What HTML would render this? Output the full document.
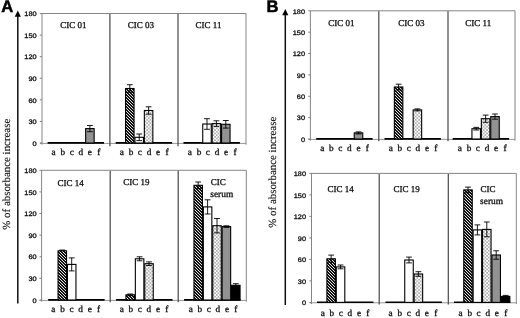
<!DOCTYPE html><html><head><meta charset="utf-8"><style>html,body{margin:0;padding:0;background:#fff;width:520px;height:318px;overflow:hidden}svg{display:block;filter:grayscale(1)}text{text-rendering:geometricPrecision}.t{font-family:"Liberation Sans",sans-serif;font-size:6.5px;fill:#111;stroke:#111;stroke-width:0.3px}.s{font-family:"Liberation Serif",serif;fill:#111;stroke:#111}</style></head><body>
<svg width="520" height="318" viewBox="0 0 520 318">
<defs><pattern id="hatch" width="3" height="3" patternUnits="userSpaceOnUse"><rect width="3" height="3" fill="#111"/><path d="M-1,-1 L4,4 M-1,2 L1,4 M2,-1 L4,1" stroke="#fff" stroke-width="0.9"/></pattern><pattern id="dots" width="3.4" height="3.4" patternUnits="userSpaceOnUse"><rect width="3.4" height="3.4" fill="#fff"/><rect x="0.2" y="0.2" width="1.3" height="1.3" fill="#777"/><rect x="1.9" y="1.9" width="1.3" height="1.3" fill="#777"/></pattern><pattern id="grey" width="2" height="2" patternUnits="userSpaceOnUse"><rect width="2" height="2" fill="#929292"/></pattern></defs>
<rect width="520" height="318" fill="#fff"/>
<text x="1.2" y="12.3" font-family="Liberation Sans" font-weight="bold" font-size="16.6" fill="#000" stroke="#000" stroke-width="0.5">A</text>
<text x="266.4" y="12.0" font-family="Liberation Sans" font-weight="bold" font-size="16.6" fill="#000" stroke="#000" stroke-width="0.5">B</text>
<line x1="17.8" y1="15.4" x2="17.8" y2="303.5" stroke="#111" stroke-width="1.5"/>
<path d="M17.8,10.4 L14.700000000000001,16.8 L20.900000000000002,16.8 Z" fill="#000"/>
<line x1="285.3" y1="13.9" x2="285.3" y2="305.0" stroke="#111" stroke-width="1.5"/>
<path d="M285.3,8.9 L282.2,15.3 L288.40000000000003,15.3 Z" fill="#000"/>
<text x="0" y="0" font-family="Liberation Serif" font-size="10.9" fill="#111" stroke="#111" stroke-width="0.15" text-anchor="middle" transform="translate(10.2,174.2) rotate(-90)">% of absorbance increase</text>
<text x="0" y="0" font-family="Liberation Serif" font-size="10.9" fill="#111" stroke="#111" stroke-width="0.15" text-anchor="middle" transform="translate(276.0,172.2) rotate(-90)">% of absorbance increase</text>
<path d="M42.0,144.7 V13.5 H246.0 V144.7" fill="none" stroke="#858585" stroke-width="1"/>
<path d="M40.0,143.4 H246.0" fill="none" stroke="#8a8a8a" stroke-width="0.9"/>
<line x1="109.9" y1="14.0" x2="109.9" y2="146.2" stroke="#484848" stroke-width="1.2"/>
<line x1="178.0" y1="14.0" x2="178.0" y2="146.2" stroke="#484848" stroke-width="1.2"/>
<line x1="39.8" y1="143.00" x2="42.0" y2="143.00" stroke="#777" stroke-width="0.9"/>
<text class="t" x="0" y="0" text-anchor="end" transform="translate(36.6,145.70) scale(1.13,1)">0</text>
<line x1="39.8" y1="121.42" x2="42.0" y2="121.42" stroke="#777" stroke-width="0.9"/>
<text class="t" x="0" y="0" text-anchor="end" transform="translate(36.6,124.12) scale(1.13,1)">30</text>
<line x1="39.8" y1="99.83" x2="42.0" y2="99.83" stroke="#777" stroke-width="0.9"/>
<text class="t" x="0" y="0" text-anchor="end" transform="translate(36.6,102.53) scale(1.13,1)">60</text>
<line x1="39.8" y1="78.25" x2="42.0" y2="78.25" stroke="#777" stroke-width="0.9"/>
<text class="t" x="0" y="0" text-anchor="end" transform="translate(36.6,80.95) scale(1.13,1)">90</text>
<line x1="39.8" y1="56.67" x2="42.0" y2="56.67" stroke="#777" stroke-width="0.9"/>
<text class="t" x="0" y="0" text-anchor="end" transform="translate(36.6,59.37) scale(1.13,1)">120</text>
<line x1="39.8" y1="35.08" x2="42.0" y2="35.08" stroke="#777" stroke-width="0.9"/>
<text class="t" x="0" y="0" text-anchor="end" transform="translate(36.6,37.78) scale(1.13,1)">150</text>
<line x1="39.8" y1="13.50" x2="42.0" y2="13.50" stroke="#777" stroke-width="0.9"/>
<text class="t" x="0" y="0" text-anchor="end" transform="translate(36.6,16.20) scale(1.13,1)">180</text>
<line x1="47.60" y1="142.9" x2="104.00" y2="142.9" stroke="#000" stroke-width="1.6"/>
<rect x="85.65" y="128.60" width="8.50" height="14.40" fill="url(#grey)" stroke="#000" stroke-width="1.1"/>
<path d="M89.90,125.50 V131.70 M87.00,125.50 H92.80 M87.00,131.70 H92.80" stroke="#000" stroke-width="0.9" fill="none"/>
<text class="s" x="53.60" y="154.80" font-size="9.2" stroke-width="0.32" text-anchor="middle">a</text>
<text class="s" x="62.80" y="154.80" font-size="9.2" stroke-width="0.32" text-anchor="middle">b</text>
<text class="s" x="71.70" y="154.80" font-size="9.2" stroke-width="0.32" text-anchor="middle">c</text>
<text class="s" x="80.80" y="154.80" font-size="9.2" stroke-width="0.32" text-anchor="middle">d</text>
<text class="s" x="89.90" y="154.80" font-size="9.2" stroke-width="0.32" text-anchor="middle">e</text>
<text class="s" x="98.80" y="154.80" font-size="9.2" stroke-width="0.32" text-anchor="middle">f</text>
<text class="s" x="60.30" y="27.60" font-size="9" stroke-width="0.3">CIC 01</text>
<line x1="115.70" y1="142.9" x2="172.10" y2="142.9" stroke="#000" stroke-width="1.6"/>
<rect x="125.55" y="88.50" width="8.50" height="54.50" fill="url(#hatch)" stroke="#000" stroke-width="1.1"/>
<path d="M129.80,84.70 V92.30 M126.90,84.70 H132.70 M126.90,92.30 H132.70" stroke="#000" stroke-width="0.9" fill="none"/>
<rect x="134.95" y="137.30" width="8.50" height="5.70" fill="#fff" stroke="#000" stroke-width="1.1"/>
<path d="M139.20,134.00 V140.60 M136.30,134.00 H142.10 M136.30,140.60 H142.10" stroke="#000" stroke-width="0.9" fill="none"/>
<rect x="144.35" y="110.50" width="8.50" height="32.50" fill="url(#dots)" stroke="#000" stroke-width="1.1"/>
<path d="M148.60,106.80 V114.20 M145.70,106.80 H151.50 M145.70,114.20 H151.50" stroke="#000" stroke-width="0.9" fill="none"/>
<text class="s" x="121.80" y="154.80" font-size="9.2" stroke-width="0.32" text-anchor="middle">a</text>
<text class="s" x="131.00" y="154.80" font-size="9.2" stroke-width="0.32" text-anchor="middle">b</text>
<text class="s" x="139.90" y="154.80" font-size="9.2" stroke-width="0.32" text-anchor="middle">c</text>
<text class="s" x="149.00" y="154.80" font-size="9.2" stroke-width="0.32" text-anchor="middle">d</text>
<text class="s" x="158.10" y="154.80" font-size="9.2" stroke-width="0.32" text-anchor="middle">e</text>
<text class="s" x="167.00" y="154.80" font-size="9.2" stroke-width="0.32" text-anchor="middle">f</text>
<text class="s" x="127.80" y="27.60" font-size="9" stroke-width="0.3">CIC 03</text>
<line x1="183.50" y1="142.9" x2="239.90" y2="142.9" stroke="#000" stroke-width="1.6"/>
<rect x="202.75" y="124.00" width="8.50" height="19.00" fill="#fff" stroke="#000" stroke-width="1.1"/>
<path d="M207.00,118.70 V129.30 M204.10,118.70 H209.90 M204.10,129.30 H209.90" stroke="#000" stroke-width="0.9" fill="none"/>
<rect x="212.15" y="123.60" width="8.50" height="19.40" fill="url(#dots)" stroke="#000" stroke-width="1.1"/>
<path d="M216.40,120.80 V126.40 M213.50,120.80 H219.30 M213.50,126.40 H219.30" stroke="#000" stroke-width="0.9" fill="none"/>
<rect x="221.55" y="124.30" width="8.50" height="18.70" fill="url(#grey)" stroke="#000" stroke-width="1.1"/>
<path d="M225.80,120.50 V128.10 M222.90,120.50 H228.70 M222.90,128.10 H228.70" stroke="#000" stroke-width="0.9" fill="none"/>
<text class="s" x="189.80" y="154.80" font-size="9.2" stroke-width="0.32" text-anchor="middle">a</text>
<text class="s" x="199.00" y="154.80" font-size="9.2" stroke-width="0.32" text-anchor="middle">b</text>
<text class="s" x="207.90" y="154.80" font-size="9.2" stroke-width="0.32" text-anchor="middle">c</text>
<text class="s" x="217.00" y="154.80" font-size="9.2" stroke-width="0.32" text-anchor="middle">d</text>
<text class="s" x="226.10" y="154.80" font-size="9.2" stroke-width="0.32" text-anchor="middle">e</text>
<text class="s" x="235.00" y="154.80" font-size="9.2" stroke-width="0.32" text-anchor="middle">f</text>
<text class="s" x="195.60" y="27.60" font-size="9" stroke-width="0.3">CIC 11</text>
<path d="M41.6,301.7 V170.3 H246.3 V301.7" fill="none" stroke="#858585" stroke-width="1"/>
<path d="M39.6,300.4 H246.3" fill="none" stroke="#8a8a8a" stroke-width="0.9"/>
<line x1="110.2" y1="170.8" x2="110.2" y2="302.2" stroke="#484848" stroke-width="1.2"/>
<line x1="178.2" y1="170.8" x2="178.2" y2="302.2" stroke="#484848" stroke-width="1.2"/>
<line x1="39.4" y1="300.00" x2="41.6" y2="300.00" stroke="#777" stroke-width="0.9"/>
<text class="t" x="0" y="0" text-anchor="end" transform="translate(36.6,302.70) scale(1.13,1)">0</text>
<line x1="39.4" y1="278.38" x2="41.6" y2="278.38" stroke="#777" stroke-width="0.9"/>
<text class="t" x="0" y="0" text-anchor="end" transform="translate(36.6,281.08) scale(1.13,1)">30</text>
<line x1="39.4" y1="256.77" x2="41.6" y2="256.77" stroke="#777" stroke-width="0.9"/>
<text class="t" x="0" y="0" text-anchor="end" transform="translate(36.6,259.47) scale(1.13,1)">60</text>
<line x1="39.4" y1="235.15" x2="41.6" y2="235.15" stroke="#777" stroke-width="0.9"/>
<text class="t" x="0" y="0" text-anchor="end" transform="translate(36.6,237.85) scale(1.13,1)">90</text>
<line x1="39.4" y1="213.53" x2="41.6" y2="213.53" stroke="#777" stroke-width="0.9"/>
<text class="t" x="0" y="0" text-anchor="end" transform="translate(36.6,216.23) scale(1.13,1)">120</text>
<line x1="39.4" y1="191.92" x2="41.6" y2="191.92" stroke="#777" stroke-width="0.9"/>
<text class="t" x="0" y="0" text-anchor="end" transform="translate(36.6,194.62) scale(1.13,1)">150</text>
<line x1="39.4" y1="170.30" x2="41.6" y2="170.30" stroke="#777" stroke-width="0.9"/>
<text class="t" x="0" y="0" text-anchor="end" transform="translate(36.6,173.00) scale(1.13,1)">180</text>
<line x1="48.20" y1="299.9" x2="104.60" y2="299.9" stroke="#000" stroke-width="1.6"/>
<rect x="58.05" y="250.80" width="8.50" height="49.20" fill="url(#hatch)" stroke="#000" stroke-width="1.1"/>
<path d="M59.40,250.20 H65.20" stroke="#000" stroke-width="1.2" fill="none"/>
<rect x="67.45" y="264.40" width="8.50" height="35.60" fill="#fff" stroke="#000" stroke-width="1.1"/>
<path d="M71.70,257.90 V270.90 M68.80,257.90 H74.60 M68.80,270.90 H74.60" stroke="#000" stroke-width="0.9" fill="none"/>
<text class="s" x="53.40" y="311.80" font-size="9.2" stroke-width="0.32" text-anchor="middle">a</text>
<text class="s" x="62.60" y="311.80" font-size="9.2" stroke-width="0.32" text-anchor="middle">b</text>
<text class="s" x="71.50" y="311.80" font-size="9.2" stroke-width="0.32" text-anchor="middle">c</text>
<text class="s" x="80.60" y="311.80" font-size="9.2" stroke-width="0.32" text-anchor="middle">d</text>
<text class="s" x="89.70" y="311.80" font-size="9.2" stroke-width="0.32" text-anchor="middle">e</text>
<text class="s" x="98.60" y="311.80" font-size="9.2" stroke-width="0.32" text-anchor="middle">f</text>
<text class="s" x="57.60" y="185.60" font-size="9" stroke-width="0.3">CIC 14</text>
<line x1="116.10" y1="299.9" x2="172.50" y2="299.9" stroke="#000" stroke-width="1.6"/>
<rect x="125.95" y="294.80" width="8.50" height="5.20" fill="url(#hatch)" stroke="#000" stroke-width="1.1"/>
<path d="M130.20,294.00 V295.60 M127.30,294.00 H133.10 M127.30,295.60 H133.10" stroke="#000" stroke-width="0.9" fill="none"/>
<rect x="135.35" y="258.80" width="8.50" height="41.20" fill="#fff" stroke="#000" stroke-width="1.1"/>
<path d="M139.60,256.80 V260.80 M136.70,256.80 H142.50 M136.70,260.80 H142.50" stroke="#000" stroke-width="0.9" fill="none"/>
<rect x="144.75" y="263.70" width="8.50" height="36.30" fill="url(#dots)" stroke="#000" stroke-width="1.1"/>
<path d="M149.00,261.90 V265.50 M146.10,261.90 H151.90 M146.10,265.50 H151.90" stroke="#000" stroke-width="0.9" fill="none"/>
<text class="s" x="121.70" y="311.80" font-size="9.2" stroke-width="0.32" text-anchor="middle">a</text>
<text class="s" x="130.90" y="311.80" font-size="9.2" stroke-width="0.32" text-anchor="middle">b</text>
<text class="s" x="139.80" y="311.80" font-size="9.2" stroke-width="0.32" text-anchor="middle">c</text>
<text class="s" x="148.90" y="311.80" font-size="9.2" stroke-width="0.32" text-anchor="middle">d</text>
<text class="s" x="158.00" y="311.80" font-size="9.2" stroke-width="0.32" text-anchor="middle">e</text>
<text class="s" x="166.90" y="311.80" font-size="9.2" stroke-width="0.32" text-anchor="middle">f</text>
<text class="s" x="123.30" y="185.30" font-size="9" stroke-width="0.3">CIC 19</text>
<line x1="184.10" y1="299.9" x2="240.50" y2="299.9" stroke="#000" stroke-width="1.6"/>
<rect x="193.95" y="185.30" width="8.50" height="114.70" fill="url(#hatch)" stroke="#000" stroke-width="1.1"/>
<path d="M198.20,182.00 V188.60 M195.30,182.00 H201.10 M195.30,188.60 H201.10" stroke="#000" stroke-width="0.9" fill="none"/>
<rect x="203.35" y="206.90" width="8.50" height="93.10" fill="#fff" stroke="#000" stroke-width="1.1"/>
<path d="M207.60,199.80 V214.00 M204.70,199.80 H210.50 M204.70,214.00 H210.50" stroke="#000" stroke-width="0.9" fill="none"/>
<rect x="212.75" y="225.70" width="8.50" height="74.30" fill="url(#dots)" stroke="#000" stroke-width="1.1"/>
<path d="M217.00,218.50 V232.90 M214.10,218.50 H219.90 M214.10,232.90 H219.90" stroke="#000" stroke-width="0.9" fill="none"/>
<rect x="222.15" y="226.60" width="8.50" height="73.40" fill="url(#grey)" stroke="#000" stroke-width="1.1"/>
<path d="M226.40,225.80 V227.40 M223.50,225.80 H229.30 M223.50,227.40 H229.30" stroke="#000" stroke-width="0.9" fill="none"/>
<rect x="231.55" y="285.30" width="8.50" height="14.70" fill="#000" stroke="#000" stroke-width="1.1"/>
<path d="M235.80,283.70 V286.90 M232.90,283.70 H238.70 M232.90,286.90 H238.70" stroke="#000" stroke-width="0.9" fill="none"/>
<text class="s" x="190.70" y="311.80" font-size="9.2" stroke-width="0.32" text-anchor="middle">a</text>
<text class="s" x="199.90" y="311.80" font-size="9.2" stroke-width="0.32" text-anchor="middle">b</text>
<text class="s" x="208.80" y="311.80" font-size="9.2" stroke-width="0.32" text-anchor="middle">c</text>
<text class="s" x="217.90" y="311.80" font-size="9.2" stroke-width="0.32" text-anchor="middle">d</text>
<text class="s" x="227.00" y="311.80" font-size="9.2" stroke-width="0.32" text-anchor="middle">e</text>
<text class="s" x="235.90" y="311.80" font-size="9.2" stroke-width="0.32" text-anchor="middle">f</text>
<text class="s" x="210.80" y="185.10" font-size="9" stroke-width="0.3">CIC</text>
<text class="s" x="210.30" y="196.80" font-size="9.4" stroke-width="0.3">serum</text>
<path d="M310.4,140.7 V10.8 H515.0 V140.7" fill="none" stroke="#858585" stroke-width="1"/>
<path d="M308.4,139.4 H515.0" fill="none" stroke="#8a8a8a" stroke-width="0.9"/>
<line x1="378.8" y1="11.3" x2="378.8" y2="141.2" stroke="#484848" stroke-width="1.2"/>
<line x1="448.0" y1="11.3" x2="448.0" y2="141.2" stroke="#484848" stroke-width="1.2"/>
<line x1="308.2" y1="139.00" x2="310.4" y2="139.00" stroke="#777" stroke-width="0.9"/>
<text class="t" x="0" y="0" text-anchor="end" transform="translate(305.0,141.70) scale(1.13,1)">0</text>
<line x1="308.2" y1="117.63" x2="310.4" y2="117.63" stroke="#777" stroke-width="0.9"/>
<text class="t" x="0" y="0" text-anchor="end" transform="translate(305.0,120.33) scale(1.13,1)">30</text>
<line x1="308.2" y1="96.27" x2="310.4" y2="96.27" stroke="#777" stroke-width="0.9"/>
<text class="t" x="0" y="0" text-anchor="end" transform="translate(305.0,98.97) scale(1.13,1)">60</text>
<line x1="308.2" y1="74.90" x2="310.4" y2="74.90" stroke="#777" stroke-width="0.9"/>
<text class="t" x="0" y="0" text-anchor="end" transform="translate(305.0,77.60) scale(1.13,1)">90</text>
<line x1="308.2" y1="53.53" x2="310.4" y2="53.53" stroke="#777" stroke-width="0.9"/>
<text class="t" x="0" y="0" text-anchor="end" transform="translate(305.0,56.23) scale(1.13,1)">120</text>
<line x1="308.2" y1="32.17" x2="310.4" y2="32.17" stroke="#777" stroke-width="0.9"/>
<text class="t" x="0" y="0" text-anchor="end" transform="translate(305.0,34.87) scale(1.13,1)">150</text>
<line x1="308.2" y1="10.80" x2="310.4" y2="10.80" stroke="#777" stroke-width="0.9"/>
<text class="t" x="0" y="0" text-anchor="end" transform="translate(305.0,13.50) scale(1.13,1)">180</text>
<line x1="316.20" y1="138.9" x2="372.60" y2="138.9" stroke="#000" stroke-width="1.6"/>
<rect x="354.25" y="132.90" width="8.50" height="6.10" fill="url(#grey)" stroke="#000" stroke-width="1.1"/>
<path d="M358.50,131.90 V133.90 M355.60,131.90 H361.40 M355.60,133.90 H361.40" stroke="#000" stroke-width="0.9" fill="none"/>
<text class="s" x="322.20" y="150.80" font-size="9.2" stroke-width="0.32" text-anchor="middle">a</text>
<text class="s" x="331.40" y="150.80" font-size="9.2" stroke-width="0.32" text-anchor="middle">b</text>
<text class="s" x="340.30" y="150.80" font-size="9.2" stroke-width="0.32" text-anchor="middle">c</text>
<text class="s" x="349.40" y="150.80" font-size="9.2" stroke-width="0.32" text-anchor="middle">d</text>
<text class="s" x="358.50" y="150.80" font-size="9.2" stroke-width="0.32" text-anchor="middle">e</text>
<text class="s" x="367.40" y="150.80" font-size="9.2" stroke-width="0.32" text-anchor="middle">f</text>
<text class="s" x="328.30" y="26.30" font-size="9" stroke-width="0.3">CIC 01</text>
<line x1="384.50" y1="138.9" x2="440.90" y2="138.9" stroke="#000" stroke-width="1.6"/>
<rect x="394.35" y="87.00" width="8.50" height="52.00" fill="url(#hatch)" stroke="#000" stroke-width="1.1"/>
<path d="M398.60,84.20 V89.80 M395.70,84.20 H401.50 M395.70,89.80 H401.50" stroke="#000" stroke-width="0.9" fill="none"/>
<rect x="413.15" y="109.90" width="8.50" height="29.10" fill="url(#dots)" stroke="#000" stroke-width="1.1"/>
<path d="M417.40,108.90 V110.90 M414.50,108.90 H420.30 M414.50,110.90 H420.30" stroke="#000" stroke-width="0.9" fill="none"/>
<text class="s" x="390.70" y="150.80" font-size="9.2" stroke-width="0.32" text-anchor="middle">a</text>
<text class="s" x="399.90" y="150.80" font-size="9.2" stroke-width="0.32" text-anchor="middle">b</text>
<text class="s" x="408.80" y="150.80" font-size="9.2" stroke-width="0.32" text-anchor="middle">c</text>
<text class="s" x="417.90" y="150.80" font-size="9.2" stroke-width="0.32" text-anchor="middle">d</text>
<text class="s" x="427.00" y="150.80" font-size="9.2" stroke-width="0.32" text-anchor="middle">e</text>
<text class="s" x="435.90" y="150.80" font-size="9.2" stroke-width="0.32" text-anchor="middle">f</text>
<text class="s" x="398.30" y="26.30" font-size="9" stroke-width="0.3">CIC 03</text>
<line x1="452.70" y1="138.9" x2="509.10" y2="138.9" stroke="#000" stroke-width="1.6"/>
<rect x="471.95" y="128.70" width="8.50" height="10.30" fill="#fff" stroke="#000" stroke-width="1.1"/>
<path d="M476.20,127.40 V130.00 M473.30,127.40 H479.10 M473.30,130.00 H479.10" stroke="#000" stroke-width="0.9" fill="none"/>
<rect x="481.35" y="118.70" width="8.50" height="20.30" fill="url(#dots)" stroke="#000" stroke-width="1.1"/>
<path d="M485.60,115.10 V122.30 M482.70,115.10 H488.50 M482.70,122.30 H488.50" stroke="#000" stroke-width="0.9" fill="none"/>
<rect x="490.75" y="116.60" width="8.50" height="22.40" fill="url(#grey)" stroke="#000" stroke-width="1.1"/>
<path d="M495.00,114.00 V119.20 M492.10,114.00 H497.90 M492.10,119.20 H497.90" stroke="#000" stroke-width="0.9" fill="none"/>
<text class="s" x="459.80" y="150.80" font-size="9.2" stroke-width="0.32" text-anchor="middle">a</text>
<text class="s" x="469.00" y="150.80" font-size="9.2" stroke-width="0.32" text-anchor="middle">b</text>
<text class="s" x="477.90" y="150.80" font-size="9.2" stroke-width="0.32" text-anchor="middle">c</text>
<text class="s" x="487.00" y="150.80" font-size="9.2" stroke-width="0.32" text-anchor="middle">d</text>
<text class="s" x="496.10" y="150.80" font-size="9.2" stroke-width="0.32" text-anchor="middle">e</text>
<text class="s" x="505.00" y="150.80" font-size="9.2" stroke-width="0.32" text-anchor="middle">f</text>
<text class="s" x="465.30" y="25.80" font-size="9" stroke-width="0.3">CIC 11</text>
<path d="M311.5,304.09999999999997 V173.4 H516.3 V304.09999999999997" fill="none" stroke="#858585" stroke-width="1"/>
<path d="M309.5,302.79999999999995 H516.3" fill="none" stroke="#8a8a8a" stroke-width="0.9"/>
<line x1="379.2" y1="173.9" x2="379.2" y2="304.59999999999997" stroke="#484848" stroke-width="1.2"/>
<line x1="448.3" y1="173.9" x2="448.3" y2="304.59999999999997" stroke="#484848" stroke-width="1.2"/>
<line x1="309.3" y1="302.40" x2="311.5" y2="302.40" stroke="#777" stroke-width="0.9"/>
<text class="t" x="0" y="0" text-anchor="end" transform="translate(306.0,305.10) scale(1.13,1)">0</text>
<line x1="309.3" y1="280.90" x2="311.5" y2="280.90" stroke="#777" stroke-width="0.9"/>
<text class="t" x="0" y="0" text-anchor="end" transform="translate(306.0,283.60) scale(1.13,1)">30</text>
<line x1="309.3" y1="259.40" x2="311.5" y2="259.40" stroke="#777" stroke-width="0.9"/>
<text class="t" x="0" y="0" text-anchor="end" transform="translate(306.0,262.10) scale(1.13,1)">60</text>
<line x1="309.3" y1="237.90" x2="311.5" y2="237.90" stroke="#777" stroke-width="0.9"/>
<text class="t" x="0" y="0" text-anchor="end" transform="translate(306.0,240.60) scale(1.13,1)">90</text>
<line x1="309.3" y1="216.40" x2="311.5" y2="216.40" stroke="#777" stroke-width="0.9"/>
<text class="t" x="0" y="0" text-anchor="end" transform="translate(306.0,219.10) scale(1.13,1)">120</text>
<line x1="309.3" y1="194.90" x2="311.5" y2="194.90" stroke="#777" stroke-width="0.9"/>
<text class="t" x="0" y="0" text-anchor="end" transform="translate(306.0,197.60) scale(1.13,1)">150</text>
<line x1="309.3" y1="173.40" x2="311.5" y2="173.40" stroke="#777" stroke-width="0.9"/>
<text class="t" x="0" y="0" text-anchor="end" transform="translate(306.0,176.10) scale(1.13,1)">180</text>
<line x1="317.05" y1="302.29999999999995" x2="373.45" y2="302.29999999999995" stroke="#000" stroke-width="1.6"/>
<rect x="326.90" y="258.80" width="8.50" height="43.60" fill="url(#hatch)" stroke="#000" stroke-width="1.1"/>
<path d="M331.15,255.10 V262.50 M328.25,255.10 H334.05 M328.25,262.50 H334.05" stroke="#000" stroke-width="0.9" fill="none"/>
<rect x="336.30" y="266.90" width="8.50" height="35.50" fill="#fff" stroke="#000" stroke-width="1.1"/>
<path d="M340.55,265.00 V268.80 M337.65,265.00 H343.45 M337.65,268.80 H343.45" stroke="#000" stroke-width="0.9" fill="none"/>
<text class="s" x="322.70" y="315.60" font-size="9.2" stroke-width="0.32" text-anchor="middle">a</text>
<text class="s" x="331.90" y="315.60" font-size="9.2" stroke-width="0.32" text-anchor="middle">b</text>
<text class="s" x="340.80" y="315.60" font-size="9.2" stroke-width="0.32" text-anchor="middle">c</text>
<text class="s" x="349.90" y="315.60" font-size="9.2" stroke-width="0.32" text-anchor="middle">d</text>
<text class="s" x="359.00" y="315.60" font-size="9.2" stroke-width="0.32" text-anchor="middle">e</text>
<text class="s" x="367.90" y="315.60" font-size="9.2" stroke-width="0.32" text-anchor="middle">f</text>
<text class="s" x="327.60" y="192.30" font-size="9" stroke-width="0.3">CIC 14</text>
<line x1="385.50" y1="302.29999999999995" x2="441.90" y2="302.29999999999995" stroke="#000" stroke-width="1.6"/>
<rect x="404.75" y="260.00" width="8.50" height="42.40" fill="#fff" stroke="#000" stroke-width="1.1"/>
<path d="M409.00,257.10 V262.90 M406.10,257.10 H411.90 M406.10,262.90 H411.90" stroke="#000" stroke-width="0.9" fill="none"/>
<rect x="414.15" y="274.00" width="8.50" height="28.40" fill="url(#dots)" stroke="#000" stroke-width="1.1"/>
<path d="M418.40,271.70 V276.30 M415.50,271.70 H421.30 M415.50,276.30 H421.30" stroke="#000" stroke-width="0.9" fill="none"/>
<text class="s" x="390.60" y="315.60" font-size="9.2" stroke-width="0.32" text-anchor="middle">a</text>
<text class="s" x="399.80" y="315.60" font-size="9.2" stroke-width="0.32" text-anchor="middle">b</text>
<text class="s" x="408.70" y="315.60" font-size="9.2" stroke-width="0.32" text-anchor="middle">c</text>
<text class="s" x="417.80" y="315.60" font-size="9.2" stroke-width="0.32" text-anchor="middle">d</text>
<text class="s" x="426.90" y="315.60" font-size="9.2" stroke-width="0.32" text-anchor="middle">e</text>
<text class="s" x="435.80" y="315.60" font-size="9.2" stroke-width="0.32" text-anchor="middle">f</text>
<text class="s" x="393.40" y="192.30" font-size="9" stroke-width="0.3">CIC 19</text>
<line x1="453.90" y1="302.29999999999995" x2="510.30" y2="302.29999999999995" stroke="#000" stroke-width="1.6"/>
<rect x="463.75" y="189.90" width="8.50" height="112.50" fill="url(#hatch)" stroke="#000" stroke-width="1.1"/>
<path d="M468.00,187.10 V192.70 M465.10,187.10 H470.90 M465.10,192.70 H470.90" stroke="#000" stroke-width="0.9" fill="none"/>
<rect x="473.15" y="229.90" width="8.50" height="72.50" fill="#fff" stroke="#000" stroke-width="1.1"/>
<path d="M477.40,224.90 V234.90 M474.50,224.90 H480.30 M474.50,234.90 H480.30" stroke="#000" stroke-width="0.9" fill="none"/>
<rect x="482.55" y="229.40" width="8.50" height="73.00" fill="url(#dots)" stroke="#000" stroke-width="1.1"/>
<path d="M486.80,222.00 V236.80 M483.90,222.00 H489.70 M483.90,236.80 H489.70" stroke="#000" stroke-width="0.9" fill="none"/>
<rect x="491.95" y="255.00" width="8.50" height="47.40" fill="url(#grey)" stroke="#000" stroke-width="1.1"/>
<path d="M496.20,250.80 V259.20 M493.30,250.80 H499.10 M493.30,259.20 H499.10" stroke="#000" stroke-width="0.9" fill="none"/>
<rect x="501.35" y="296.40" width="8.50" height="6.00" fill="#000" stroke="#000" stroke-width="1.1"/>
<path d="M505.60,295.40 V297.40 M502.70,295.40 H508.50 M502.70,297.40 H508.50" stroke="#000" stroke-width="0.9" fill="none"/>
<text class="s" x="460.50" y="315.60" font-size="9.2" stroke-width="0.32" text-anchor="middle">a</text>
<text class="s" x="469.70" y="315.60" font-size="9.2" stroke-width="0.32" text-anchor="middle">b</text>
<text class="s" x="478.60" y="315.60" font-size="9.2" stroke-width="0.32" text-anchor="middle">c</text>
<text class="s" x="487.70" y="315.60" font-size="9.2" stroke-width="0.32" text-anchor="middle">d</text>
<text class="s" x="496.80" y="315.60" font-size="9.2" stroke-width="0.32" text-anchor="middle">e</text>
<text class="s" x="505.70" y="315.60" font-size="9.2" stroke-width="0.32" text-anchor="middle">f</text>
<text class="s" x="480.40" y="191.80" font-size="9" stroke-width="0.3">CIC</text>
<text class="s" x="480.10" y="203.80" font-size="9.4" stroke-width="0.3">serum</text>
</svg></body></html>
